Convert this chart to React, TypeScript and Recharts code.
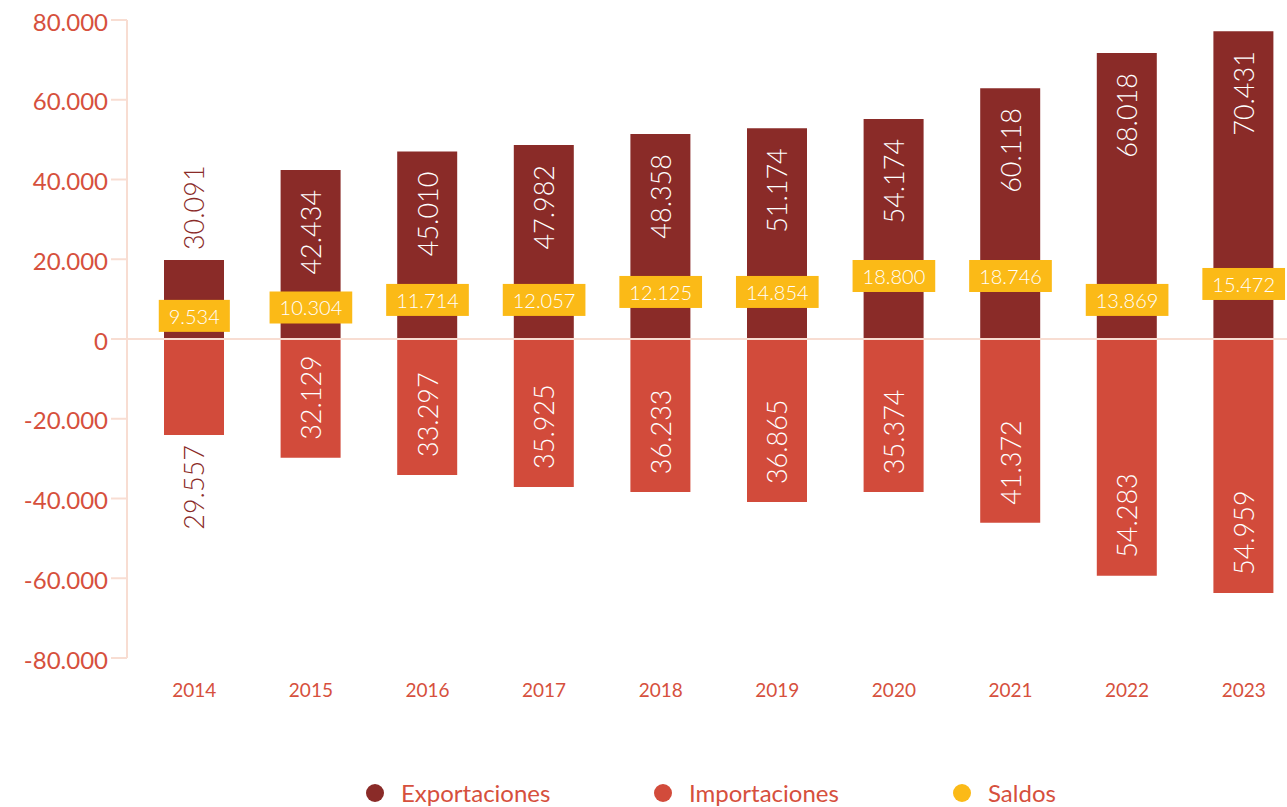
import React from 'react';
import { ComposedChart, Bar, Line, XAxis, YAxis, ReferenceLine, LabelList } from 'recharts';

// ---- data ----
const years = ['2014', '2015', '2016', '2017', '2018', '2019', '2020', '2021', '2022', '2023'];
// bar heights as drawn
const exportBars = [19800, 42400, 47000, 48650, 51400, 52850, 55200, 62900, 71700, 77200];
const importBars = [24100, 29800, 34100, 37100, 38400, 40900, 38400, 46100, 59400, 63700];
// printed labels
const exportLabels = ['30.091', '42.434', '45.010', '47.982', '48.358', '51.174', '54.174', '60.118', '68.018', '70.431'];
const importLabels = ['29.557', '32.129', '33.297', '35.925', '36.233', '36.865', '35.374', '41.372', '54.283', '54.959'];
const saldoLabels = ['9.534', '10.304', '11.714', '12.057', '12.125', '14.854', '18.800', '18.746', '13.869', '15.472'];
// level at which each saldo tag sits
const saldoLevels = [5800, 7900, 9800, 9800, 11800, 11800, 15800, 15800, 9800, 13800];
const yTicks = [-80000, -60000, -40000, -20000, 0, 20000, 40000, 60000, 80000];
const seriesNames = ['Exportaciones', 'Importaciones', 'Saldos'];

const EXP = '#8A2B28';
const IMP = '#D24B3B';
const SAL = '#FBBA17';
const seriesColors = [EXP, IMP, SAL];
const AXIS = '#F8DDD2';
const TXT = '#D6503D';
const FONT = 'Lato, sans-serif';

const data = years.map((year, i) => ({
  year,
  exp: exportBars[i],
  imp: -importBars[i],
  expLabel: exportLabels[i],
  impLabel: importLabels[i],
  saldo: saldoLevels[i],
  saldoLabel: saldoLabels[i],
}));

const fmt = (v: number) => {
  if (v === 0) return '0';
  const s = String(Math.abs(v)).replace(/\B(?=(\d{3})+(?!\d))/g, '.');
  return (v < 0 ? '-' : '') + s;
};

let ctx: CanvasRenderingContext2D | null = null;
const measure = (s: string, font: string) => {
  if (!ctx) ctx = document.createElement('canvas').getContext('2d');
  if (!ctx) return s.length * 10;
  ctx.font = font;
  return ctx.measureText(s).width;
};

const LABEL_SIZE = 27;

const ExportLabel = (props: any) => {
  const { x, y, width, height, value } = props;
  const top = Math.min(y, y + height);
  const h = Math.abs(height);
  const cx = x + width / 2;
  const inside = h > 110;
  const ty = inside ? top + 20 : top - 10;
  return (
    <text
      x={cx}
      y={ty}
      transform={`rotate(-90 ${cx} ${ty})`}
      textAnchor={inside ? 'end' : 'start'}
      dominantBaseline="central"
      fill={inside ? '#ffffff' : EXP}
      fontSize={LABEL_SIZE}
      fontFamily={FONT}
      fontWeight={300}
    >
      {value}
    </text>
  );
};

const ImportLabel = (props: any) => {
  const { x, y, width, height, value } = props;
  const bottom = Math.max(y, y + height);
  const h = Math.abs(height);
  const cx = x + width / 2;
  const inside = h > 110;
  const ty = inside ? bottom - 18 : bottom + 10;
  return (
    <text
      x={cx}
      y={ty}
      transform={`rotate(-90 ${cx} ${ty})`}
      textAnchor={inside ? 'start' : 'end'}
      dominantBaseline="central"
      fill={inside ? '#ffffff' : EXP}
      fontSize={LABEL_SIZE}
      fontFamily={FONT}
      fontWeight={300}
    >
      {value}
    </text>
  );
};

const SaldoTag = (props: any) => {
  const { cx, cy, payload, index } = props;
  if (cx == null || cy == null) return <g key={`s-${index}`} />;
  const label = payload.saldoLabel as string;
  const w = measure(label, `300 20px Lato`) + 20;
  const h = 32;
  return (
    <g key={`s-${index}`}>
      <rect x={cx - w / 2} y={cy - h / 2} width={w} height={h} fill={SAL} />
      <text
        x={cx}
        y={cy}
        textAnchor="middle"
        dominantBaseline="central"
        fill="#ffffff"
        fontSize={20}
        fontWeight={300}
        fontFamily={FONT}
      >
        {label}
      </text>
    </g>
  );
};

const legendLefts = [366, 654, 953];

export default function App() {
  return (
    <div
      style={{
        position: 'absolute',
        left: 0,
        top: 0,
        width: 1287,
        height: 807,
        overflow: 'hidden',
        background: '#ffffff',
        fontFamily: FONT,
      }}
    >
      <ComposedChart
        width={1310}
        height={807}
        data={data}
        stackOffset="sign"
        margin={{ top: 20, right: 0, bottom: 89, left: 0 }}
      >
        <XAxis
          dataKey="year"
          height={60}
          axisLine={false}
          tickLine={false}
          tickSize={0}
          tickMargin={26}
          interval={0}
          padding={{ left: 9, right: 8 }}
          tick={{ fill: TXT, fontSize: 19, fontFamily: FONT, fontWeight: 400 }}
        />
        <YAxis
          width={127}
          domain={[-80000, 80000]}
          ticks={yTicks}
          interval={0}
          tickFormatter={fmt}
          axisLine={{ stroke: AXIS, strokeWidth: 2 }}
          tickLine={{ stroke: AXIS, strokeWidth: 2 }}
          tickSize={16}
          tickMargin={3}
          tick={{ fill: TXT, fontSize: 24, fontFamily: FONT, fontWeight: 400, dy: 2 }}
        />
        <ReferenceLine y={0} stroke={AXIS} strokeWidth={2} />
        <Bar dataKey="exp" name={seriesNames[0]} stackId="s" fill={EXP} barSize={60} isAnimationActive={false}>
          <LabelList dataKey="expLabel" content={ExportLabel} />
        </Bar>
        <Bar dataKey="imp" name={seriesNames[1]} stackId="s" fill={IMP} barSize={60} isAnimationActive={false}>
          <LabelList dataKey="impLabel" content={ImportLabel} />
        </Bar>
        <Line
          dataKey="saldo"
          name={seriesNames[2]}
          stroke="none"
          dot={SaldoTag}
          activeDot={false}
          legendType="none"
          isAnimationActive={false}
        />
      </ComposedChart>
      {seriesNames.map((n, i) => (
        <div
          key={n}
          style={{
            position: 'absolute',
            left: legendLefts[i],
            top: 778,
            height: 30,
            display: 'flex',
            alignItems: 'center',
            whiteSpace: 'nowrap',
          }}
        >
          <span
            style={{
              display: 'inline-block',
              width: 18,
              height: 18,
              borderRadius: 9,
              background: seriesColors[i],
            }}
          />
          <span
            style={{
              marginLeft: 17,
              fontSize: 24,
              fontWeight: 400,
              color: TXT,
              fontFamily: FONT,
              lineHeight: '30px',
            }}
          >
            {n}
          </span>
        </div>
      ))}
    </div>
  );
}
